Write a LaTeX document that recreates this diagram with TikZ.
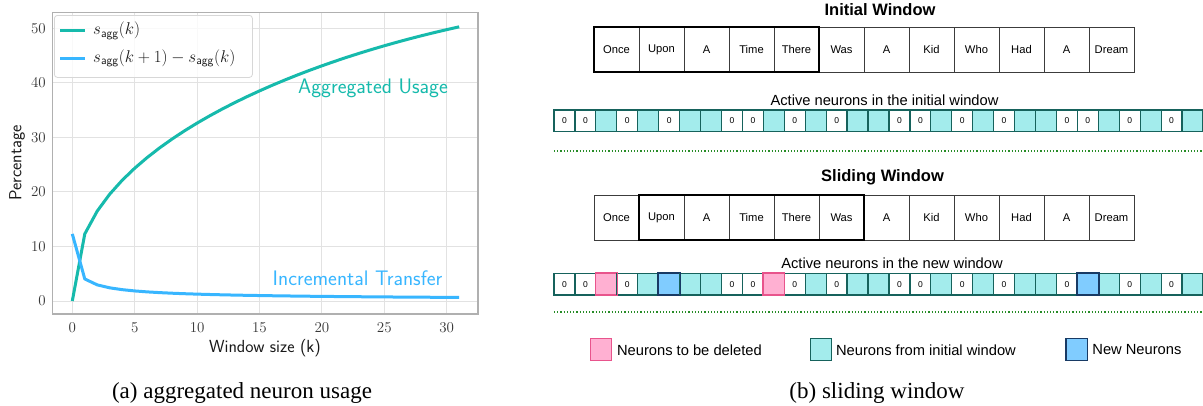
\RequirePackage{fix-cm}
\documentclass[tikz,border=0pt]{standalone}
\usepackage{fontspec}
\newfontfamily\rsans{Liberation Sans}
\newfontfamily\rserif{Liberation Serif}
\usetikzlibrary{calc}

\definecolor{aggteal}{RGB}{22,186,172}
\definecolor{incblue}{RGB}{56,182,255}
\definecolor{gridgray}{RGB}{226,226,226}
\definecolor{framegray}{RGB}{176,176,176}
\definecolor{legedge}{RGB}{215,215,215}
\definecolor{ticktext}{RGB}{55,55,55}
\definecolor{cellteal}{RGB}{163,236,236}
\definecolor{celledge}{RGB}{22,98,92}
\definecolor{delfill}{RGB}{255,176,210}
\definecolor{deledge}{RGB}{232,84,140}
\definecolor{newfill}{RGB}{128,204,255}
\definecolor{newedge}{RGB}{24,58,100}
\definecolor{sepgreen}{RGB}{40,140,40}
\definecolor{tokedge}{RGB}{60,60,60}

\tikzset{
  gridline/.style={draw=gridgray, line width=1pt},
  aggcurve/.style={draw=aggteal, line width=3pt, line join=round},
  inccurve/.style={draw=incblue, line width=3pt, line join=round},
  ticklab/.style={text=ticktext, inner sep=0pt, font=\fontsize{15}{17}\selectfont},
  axlab/.style={text=black!90, inner sep=0pt, font=\sffamily\fontsize{17.5}{20}\selectfont},
  leglab/.style={text=black!90, inner sep=0pt, anchor=west, font=\fontsize{17}{20}\selectfont},
  curvename/.style={inner sep=0pt, font=\sffamily\fontsize{21}{24}\selectfont},
  tok/.style={draw=tokedge, line width=0.8pt, minimum width=45pt, minimum height=45pt,
    inner sep=0pt, font=\rsans\fontsize{11.2}{13}\selectfont},
  winframe/.style={draw=black, line width=2pt},
  nrn/.style={draw=celledge, line width=1.2pt, minimum width=20.935pt, minimum height=21.7pt,
    inner sep=0pt, font=\rsans\fontsize{8.5}{10}\selectfont},
  cellw/.style={nrn, fill=white},
  cellt/.style={nrn, fill=cellteal},
  cellp/.style={nrn, fill=delfill, draw=deledge},
  cellb/.style={nrn, fill=newfill, draw=newedge},
  sepline/.style={draw=sepgreen, line width=1.2pt, dotted},
  heading/.style={anchor=base, inner sep=0pt, font=\rsans\bfseries\fontsize{16.5}{19}\selectfont},
  rowlab/.style={anchor=base, inner sep=0pt, font=\rsans\fontsize{14.7}{17}\selectfont},
  legsq/.style={minimum width=21.5pt, minimum height=22pt, inner sep=0pt, line width=1.3pt},
  legtxt/.style={anchor=west, inner sep=0pt, font=\rsans\fontsize{14.7}{17}\selectfont},
  caption/.style={inner sep=0pt, font=\rserif\fontsize{23}{26}\selectfont}
}

\begin{document}
\begin{tikzpicture}[x=1pt,y=-1pt]
\useasboundingbox (0,0) rectangle (1203,405);
\fill[white] (0,0) rectangle (1203,405);

% ---------- (a) line chart ----------
% grid
\foreach \k in {0,5,...,30}
  \draw[gridline] ({72.3+12.48*\k},12.7) -- ({72.3+12.48*\k},314);
\foreach \v in {0,10,...,50}
  \draw[gridline] (52.7,{301-5.454*\v}) -- (478,{301-5.454*\v});
% frame
\draw[draw=framegray, line width=1.3pt] (52.7,12.7) rectangle (478,314);
% tick labels
\foreach \k in {0,5,...,30}
  \node[ticklab] (xt\k) at ({72.3+12.48*\k},328) {$\k$};
\foreach \v in {0,10,...,50}
  \node[ticklab, anchor=east] (yt\v) at (46,{301-5.454*\v}) {$\v$};
% axis titles
\node[axlab] (xtitle) at (265,348) {Window size (k)};
\node[axlab, rotate=90] (ytitle) at (17,163) {Percentage};

% curves (one point per window size k)
\draw[aggcurve] (72.3,301) -- plot[domain=1:31, samples=31]
  ({72.3+12.48*\x},{301-5.454*(12.3*(\x^0.41)+1.2*(\x-1)*(31-\x)/225)});
\draw[inccurve] (72.3,233.92) -- plot[domain=1:31, samples=31]
  ({72.3+12.48*\x},{301-67.08*((\x+1)^0.41-\x^0.41)});

% curve annotations
\node[curvename, text=aggteal] (aggname) at (373,88) {Aggregated Usage};
\node[curvename, text=incblue] (incname) at (357.5,278) {Incremental Transfer};

% legend
\node[draw=legedge, line width=0.8pt, rounded corners=3pt, fill=white, fill opacity=0.8,
      minimum width=198pt, minimum height=62pt, anchor=north west, inner sep=0pt] (legbox) at (54,15) {};
\coordinate (legAa) at (60,30.7);  \coordinate (legAb) at (85,30.7);
\coordinate (legBa) at (60,58.3);  \coordinate (legBb) at (85,58.3);
\draw[aggcurve] (legAa) -- (legAb);
\draw[inccurve] (legBa) -- (legBb);
\node[leglab] (legA) at (93,30.7) {$s_{\mathsf{agg}}(k)$};
\node[leglab] (legB) at (93,58.3) {$s_{\mathsf{agg}}(k+1)-s_{\mathsf{agg}}(k)$};

% ---------- (b) sliding window ----------
\node[heading] (titleA) at (880,15.5) {Initial Window};
\foreach \w [count=\i] in {Once,Upon,A,Time,There,Was,A,Kid,Who,Had,A,Dream}
  \node[tok] (ta\i) at ({594+45*(\i-1)+22.5},49.5) {\w};
\draw[winframe] (ta1.north west) rectangle (ta5.south east);

\node[rowlab] (rowA) at (884.5,105.5) {Active neurons in the initial window};
\foreach \c/\t [count=\i] in {w/0,w/0,t/,w/0,t/,w/0,t/,t/,
                              w/0,w/0,t/,w/0,t/,w/0,t/,t/,
                              w/0,w/0,t/,w/0,t/,w/0,t/,t/,
                              w/0,w/0,t/,w/0,t/,w/0,t/}
  \node[cell\c] (na\i) at ({554+20.935*(\i-0.5)},120.75) {\t};

\coordinate (sepAl) at (554,151);
\coordinate (sepAr) at (1203,151);
\draw[sepline] (sepAl) -- (sepAr);

\node[heading] (titleB) at (882.5,181) {Sliding Window};
\foreach \w [count=\i] in {Once,Upon,A,Time,There,Was,A,Kid,Who,Had,A,Dream}
  \node[tok] (tb\i) at ({594+45*(\i-1)+22.5},217.5) {\w};
\draw[winframe] (tb2.north west) rectangle (tb6.south east);

\node[rowlab] (rowB) at (892,268.5) {Active neurons in the new window};
\foreach \c/\t [count=\i] in {w/0,w/0,p/,w/0,t/,b/,t/,t/,
                              w/0,w/0,p/,w/0,t/,w/0,t/,t/,
                              w/0,w/0,t/,w/0,t/,w/0,t/,t/,
                              w/0,b/,t/,w/0,t/,w/0,t/}
  \node[cell\c] (nb\i) at ({554+20.935*(\i-0.5)},284.2) {\t};
% coloured cells keep their own outline on top of the neighbours
\foreach \i in {3,11}
  \draw[draw=deledge, line width=1.2pt] (nb\i.north west) rectangle (nb\i.south east);
\foreach \i in {6,26}
  \draw[draw=newedge, line width=1.2pt] (nb\i.north west) rectangle (nb\i.south east);

\coordinate (sepBl) at (554,312);
\coordinate (sepBr) at (1203,312);
\draw[sepline] (sepBl) -- (sepBr);

% legend of cell colours
\node[legsq, fill=delfill, draw=deledge] (lgdel) at (601,349.8) {};
\node[legtxt] (lgdeltxt) at ($(lgdel.east)+(4.5,0)$) {Neurons to be deleted};
\node[legsq, fill=cellteal, draw=celledge] (lgold) at (821,349.8) {};
\node[legtxt] (lgoldtxt) at ($(lgold.east)+(3.5,0)$) {Neurons from initial window};
\node[legsq, fill=newfill, draw=newedge] (lgnew) at (1076.8,349.8) {};
\node[legtxt] (lgnewtxt) at ($(lgnew.east)+(4,0)$) {New Neurons};

% ---------- captions ----------
\node[caption] (capA) at (242,393) {(a) aggregated neuron usage};
\node[caption] (capB) at (877,393) {(b) sliding window};
\end{tikzpicture}
\end{document}
